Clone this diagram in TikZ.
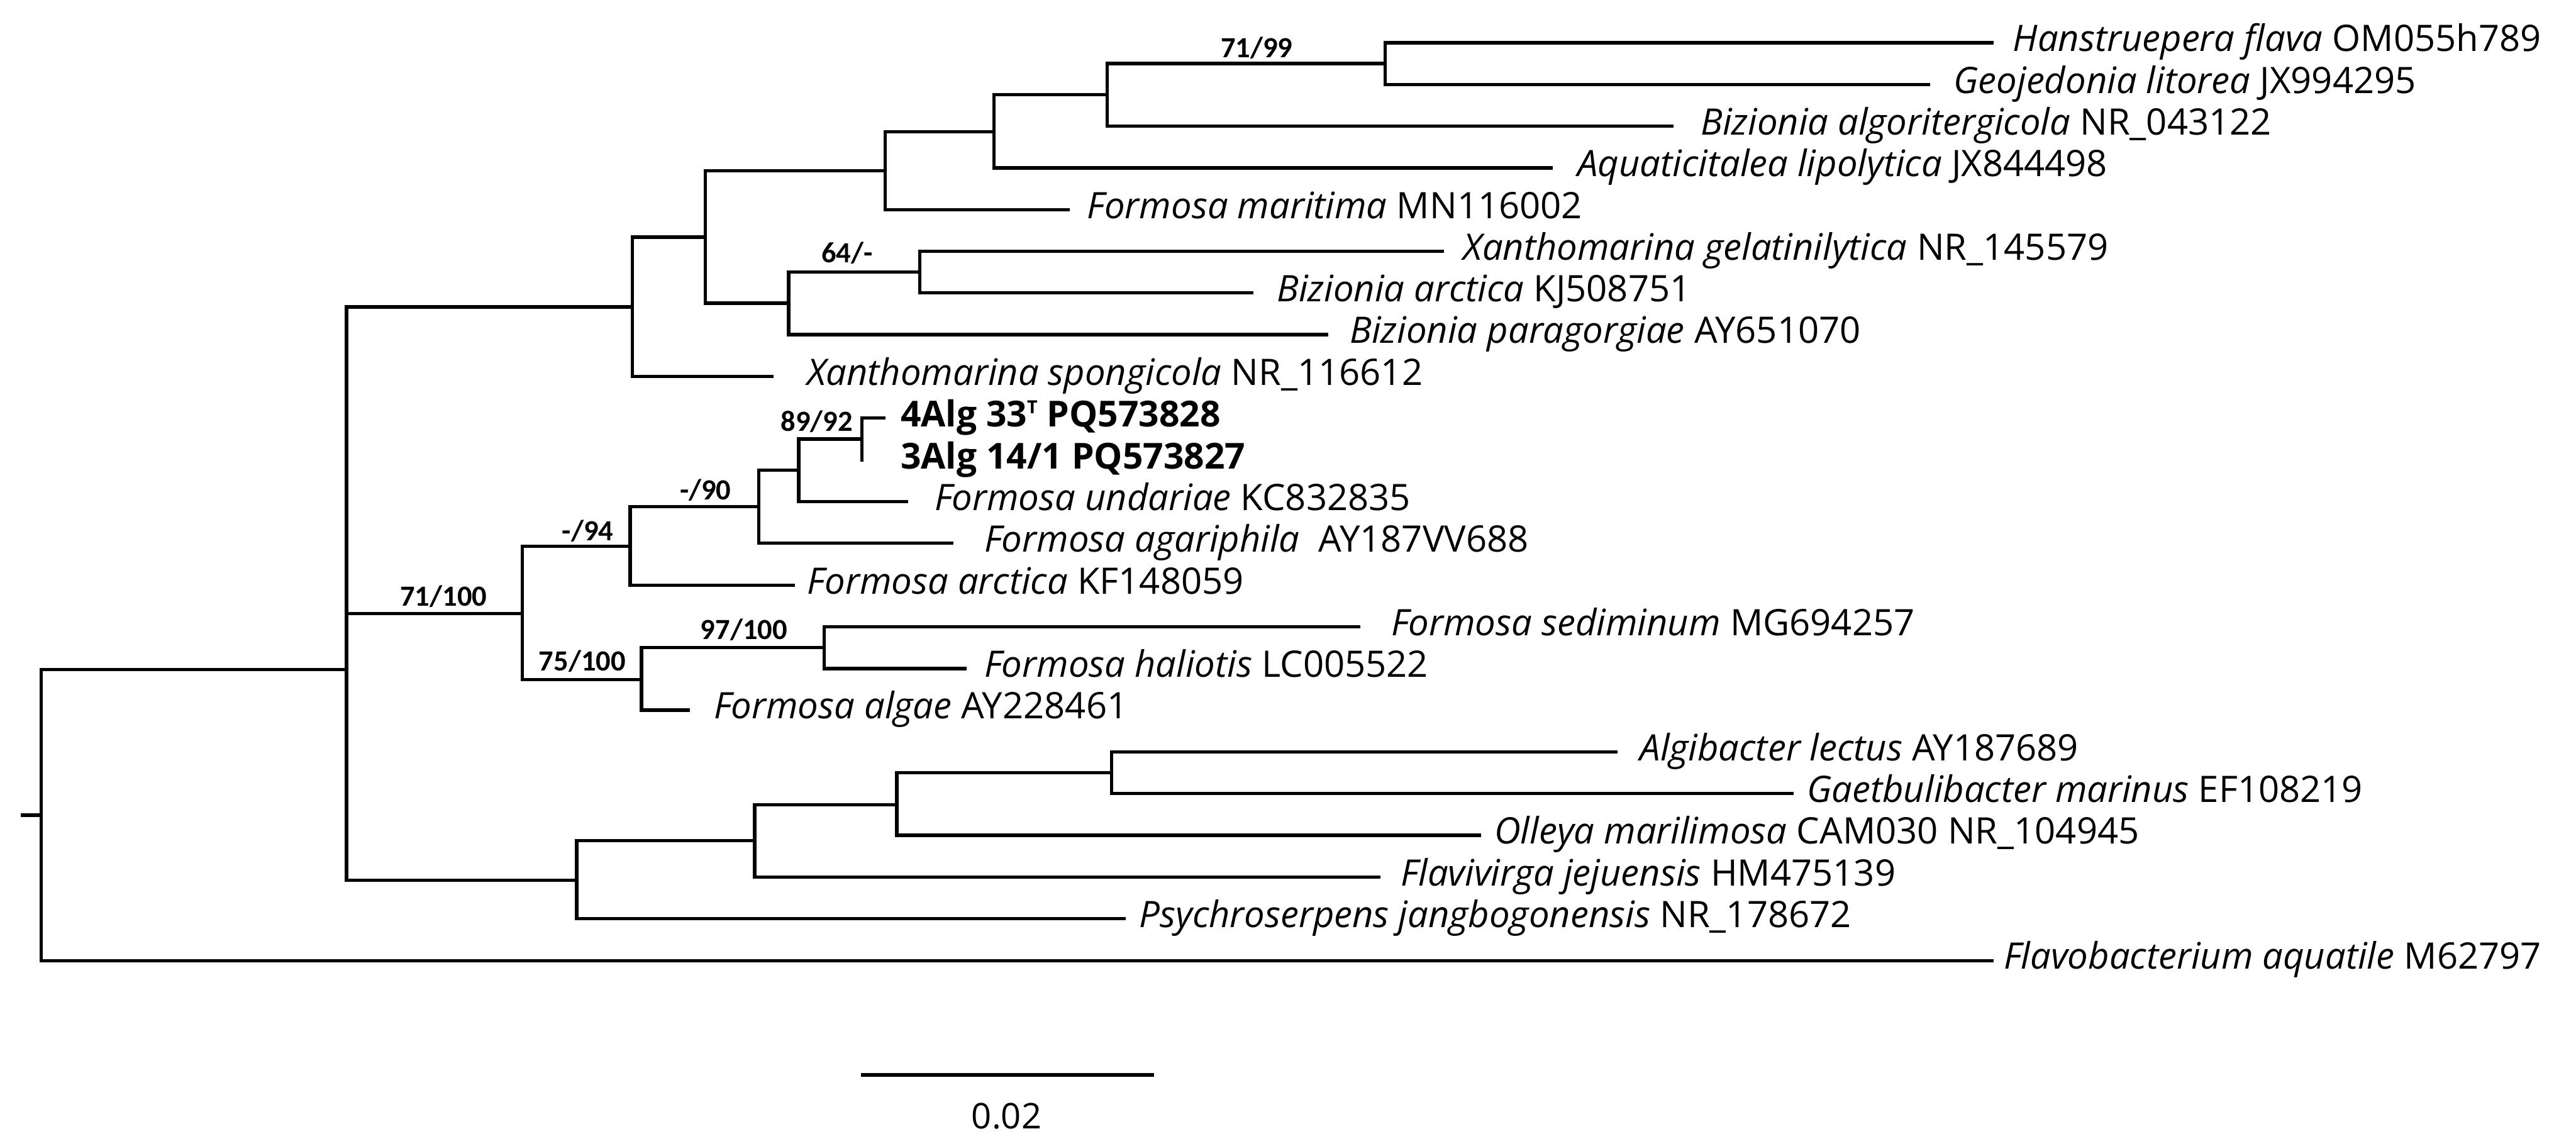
\documentclass[tikz,border=0pt]{standalone}
\usepackage{fontspec}
\setmainfont{Open Sans}
\newfontfamily\supfont{Carlito}
\begin{document}
\begin{tikzpicture}[x=1pt,y=-1pt,
  branch/.style={line width=2pt,line cap=rect,line join=miter},
  lab/.style={inner sep=0pt,anchor=base west,font=\fontsize{22.2}{24}\selectfont},
  blab/.style={lab,font=\fontsize{21.8}{24}\selectfont\bfseries},
  sup/.style={inner sep=0pt,anchor=base,font=\fontsize{17.8}{20}\selectfont\supfont\bfseries}]
\useasboundingbox (0,0) rectangle (1568,697.3);
% tips (branch ends)
\coordinate (t0) at (1212.6,26.0);
\coordinate (t1) at (1174.0,51.4);
\coordinate (t2) at (1017.6,76.8);
\coordinate (t3) at (944.0,102.2);
\coordinate (t4) at (650.0,127.6);
\coordinate (t5) at (878.0,153.0);
\coordinate (t6) at (762.0,178.3);
\coordinate (t7) at (807.4,203.7);
\coordinate (t8) at (469.7,229.1);
\coordinate (t9) at (538.0,254.5);
\coordinate (t10) at (524.7,279.9);
\coordinate (t11) at (551.7,305.3);
\coordinate (t12) at (579.3,330.7);
\coordinate (t13) at (482.9,356.1);
\coordinate (t14) at (827.0,381.5);
\coordinate (t15) at (587.2,406.9);
\coordinate (t16) at (419.1,432.2);
\coordinate (t17) at (983.6,457.6);
\coordinate (t18) at (1090.9,483.0);
\coordinate (t19) at (900.4,508.4);
\coordinate (t20) at (839.1,533.8);
\coordinate (t21) at (684.3,559.2);
\coordinate (t22) at (1212.6,584.6);
% internal nodes
\coordinate (stub) at (13.8,496.1);
\coordinate (nRoot) at (25,496.1);
\coordinate (nA) at (210.9,407.6);
\coordinate (nB) at (385,186.8);
\coordinate (nC) at (429.3,144.3);
\coordinate (nF) at (538.7,103.9);
\coordinate (nG) at (605,80.1);
\coordinate (nH) at (674,57.6);
\coordinate (nI) at (843,38.7);
\coordinate (nD) at (480,184.5);
\coordinate (nE) at (560,165.6);
\coordinate (nJ) at (318,373.3);
\coordinate (nK) at (383.6,332.5);
\coordinate (nL) at (462,308.5);
\coordinate (nM) at (486.2,286.3);
\coordinate (nN) at (524.7,267.2);
\coordinate (nO) at (390.5,413.5);
\coordinate (nP) at (501.7,394.2);
\coordinate (nQ) at (351,535.7);
\coordinate (nR) at (459.4,511.6);
\coordinate (nS) at (545.9,489.7);
\coordinate (nT) at (676.6,470.3);
% branches
\draw[branch] (t0) -- (nI |- t0) -- (nI |- t1) -- (t1);
\draw[branch] (nI) -- (nH |- nI) -- (nH |- t2) -- (t2);
\draw[branch] (nH) -- (nG |- nH) -- (nG |- t3) -- (t3);
\draw[branch] (nG) -- (nF |- nG) -- (nF |- t4) -- (t4);
\draw[branch] (t5) -- (nE |- t5) -- (nE |- t6) -- (t6);
\draw[branch] (nE) -- (nD |- nE) -- (nD |- t7) -- (t7);
\draw[branch] (nF) -- (nC |- nF) -- (nC |- nD) -- (nD);
\draw[branch] (nC) -- (nB |- nC) -- (nB |- t8) -- (t8);
\draw[branch] (t9) -- (nN |- t9) -- (t10);
\draw[branch] (nN) -- (nM |- nN) -- (nM |- t11) -- (t11);
\draw[branch] (nM) -- (nL |- nM) -- (nL |- t12) -- (t12);
\draw[branch] (nL) -- (nK |- nL) -- (nK |- t13) -- (t13);
\draw[branch] (t14) -- (nP |- t14) -- (nP |- t15) -- (t15);
\draw[branch] (nP) -- (nO |- nP) -- (nO |- t16) -- (t16);
\draw[branch] (nK) -- (nJ |- nK) -- (nJ |- nO) -- (nO);
\draw[branch] (t17) -- (nT |- t17) -- (nT |- t18) -- (t18);
\draw[branch] (nT) -- (nS |- nT) -- (nS |- t19) -- (t19);
\draw[branch] (nS) -- (nR |- nS) -- (nR |- t20) -- (t20);
\draw[branch] (nR) -- (nQ |- nR) -- (nQ |- t21) -- (t21);
\draw[branch] (nB) -- (nA |- nB) -- (nA |- nQ) -- (nQ);
\draw[branch] (nJ) -- (nA |- nJ);
\draw[branch] (nA) -- (nRoot |- nA) -- (nRoot |- t22) -- (t22);
\draw[branch] (stub) -- (nRoot);
% tip labels
\node[lab] (l0) at (1225,31.3) {\textit{Hanstruepera flava} OM055h789};
\node[lab] (l1) at (1189,56.7) {\textit{Geojedonia litorea} JX994295};
\node[lab] (l2) at (1035,82.1) {\textit{Bizionia algoritergicola} NR\_043122};
\node[lab] (l3) at (960,107.5) {\textit{Aquaticitalea lipolytica} JX844498};
\node[lab] (l4) at (661.5,132.9) {\textit{Formosa maritima} MN116002};
\node[lab] (l5) at (890.5,158.3) {\textit{Xanthomarina gelatinilytica} NR\_145579};
\node[lab] (l6) at (777,183.6) {\textit{Bizionia arctica} KJ508751};
\node[lab] (l7) at (821.5,209.0) {\textit{Bizionia paragorgiae} AY651070};
\node[lab] (l8) at (491,234.4) {\textit{Xanthomarina spongicola} NR\_116612};
\node[blab] (l9) at (548,259.8) {4Alg 33\raisebox{8pt}{\fontsize{11}{12}\selectfont T} PQ573828};
\node[blab] (l10) at (548,285.2) {3Alg 14/1 PQ573827};
\node[lab] (l11) at (568.7,310.6) {\textit{Formosa undariae} KC832835};
\node[lab] (l12) at (599,336.0) {\textit{Formosa agariphila}\ \ AY187VV688};
\node[lab] (l13) at (491.3,361.4) {\textit{Formosa arctica} KF148059};
\node[lab] (l14) at (846.6,386.8) {\textit{Formosa sediminum} MG694257};
\node[lab] (l15) at (599,412.2) {\textit{Formosa haliotis} LC005522};
\node[lab] (l16) at (434.3,437.5) {\textit{Formosa algae} AY228461};
\node[lab] (l17) at (998,462.9) {\textit{Algibacter lectus} AY187689};
\node[lab] (l18) at (1099.7,488.3) {\textit{Gaetbulibacter marinus} EF108219};
\node[lab] (l19) at (909.4,513.7) {\textit{Olleya marilimosa} CAM030 NR\_104945};
\node[lab] (l20) at (852.6,539.1) {\textit{Flavivirga jejuensis} HM475139};
\node[lab] (l21) at (693.3,564.5) {\textit{Psychroserpens jangbogonensis} NR\_178672};
\node[lab] (l22) at (1219.5,589.9) {\textit{Flavobacterium aquatile} M62797};
% support values
\node[sup] (s1) at (765,35) {71/99};
\node[sup] (s2) at (515.6,159.7) {64/-};
\node[sup] (s3) at (270,369) {71/100};
\node[sup] (s4) at (357.8,328.9) {-/94};
\node[sup] (s5) at (429.4,304) {-/90};
\node[sup] (s6) at (497.2,262.3) {89/92};
\node[sup] (s7) at (354.4,408.4) {75/100};
\node[sup] (s8) at (452.8,389.1) {97/100};
% scale bar
\coordinate (sb1) at (524.2,654.2);
\coordinate (sb2) at (702.5,654.2);
\draw[branch,line cap=butt] (sb1) -- (sb2);
\node[inner sep=0pt,anchor=base,font=\fontsize{21.5}{24}\selectfont] (sbl) at (612.7,686.8) {0.02};
\end{tikzpicture}
\end{document}
